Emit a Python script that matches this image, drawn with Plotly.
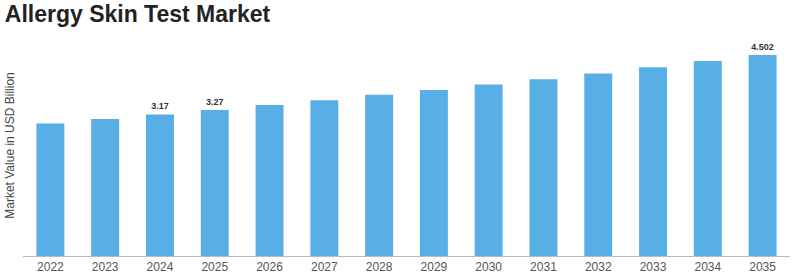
import plotly.graph_objects as go

years = ["2022", "2023", "2024", "2025", "2026", "2027", "2028",
         "2029", "2030", "2031", "2032", "2033", "2034", "2035"]
values = [2.97, 3.07, 3.17, 3.27, 3.38, 3.49, 3.61,
          3.72, 3.84, 3.96, 4.09, 4.23, 4.37, 4.502]
labels = ["", "", "<b>3.17</b>", "<b>3.27</b>", "", "", "",
          "", "", "", "", "", "", "<b>4.502</b>"]

fig = go.Figure(go.Bar(
    x=years, y=values,
    marker=dict(color="#58AFE5", line=dict(width=0)),
    text=labels, textposition="outside",
    textfont=dict(family="Arial", size=9, color="#333333"),
    cliponaxis=False,
))

fig.update_layout(
    width=800, height=275,
    margin=dict(l=23, r=10, t=35, b=19),
    paper_bgcolor="white", plot_bgcolor="white",
    bargap=0.49,
    showlegend=False,
    title=dict(text="<b>Allergy Skin Test Market</b>", x=0.006, xanchor="left",
               y=0.95, yanchor="middle",
               font=dict(family="Arial", size=23, color="#222222")),
    xaxis=dict(showline=True, linecolor="#bbbbbb", linewidth=1,
               ticks="", automargin=False, ticklabelstandoff=0,
               tickfont=dict(family="Arial", size=12, color="#555555"),
               showgrid=False),
    yaxis=dict(range=[0, 4.95], showticklabels=False, showgrid=False,
               zeroline=False, showline=False, automargin=False,
               title=dict(text="Market Value in USD Billion", standoff=4,
                          font=dict(family="Arial", size=12, color="#444444"))),
)

fig.write_html("out.html")
